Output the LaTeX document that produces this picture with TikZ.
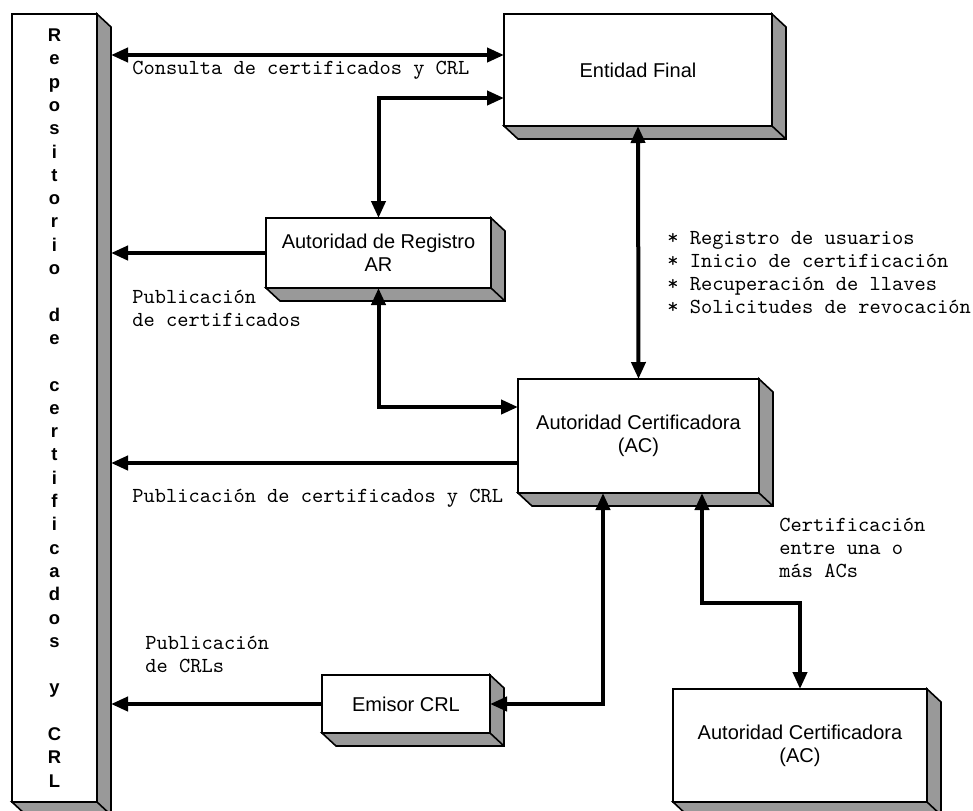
\documentclass[tikz,border=0pt]{standalone}
\usepackage{fontspec}
\setmainfont{Liberation Sans}
\usetikzlibrary{arrows.meta,calc}

\newcommand{\gapline}{\\[11.65pt]}

\begin{document}
\begin{tikzpicture}[x=0.5pt,y=-0.5pt,>={Triangle[length=8.5pt,width=7pt]},
        box/.style={draw,line width=0.8pt,fill=white,inner sep=0pt,outer sep=0pt,align=center,
                    font=\fontsize{10}{11.5}\selectfont},
        sidefill/.style={draw,line width=0.8pt,fill=black!40},
        link/.style={line width=2pt},
        lbl/.style={anchor=west,align=left,inner sep=0pt,font=\ttfamily\fontsize{10.7}{11.4}\selectfont}]
        \useasboundingbox (0,0) rectangle (973,810);

        % boxes
        \node[box,minimum width=42.5pt,minimum height=394pt,
              font=\bfseries\fontsize{9.2}{11.65}\selectfont] (rep) at (54.5,408)
              {R\\e\\p\\o\\s\\i\\t\\o\\r\\i\\o\gapline d\\e\gapline c\\e\\r\\t\\i\\f\\i\\c\\a\\d\\o\\s\gapline y\gapline C\\R\\L};
        \node[box,minimum width=134pt,minimum height=56pt] (ef) at (638,70) {Entidad Final};
        \node[box,minimum width=112.5pt,minimum height=35pt] (ar) at (378.5,253) {Autoridad de Registro\\AR};
        \node[box,minimum width=120.5pt,minimum height=57pt] (ac) at (638.5,436) {Autoridad Certificadora\\(AC)};
        \node[box,minimum width=84pt,minimum height=29pt] (emi) at (406,704) {Emisor CRL};
        \node[box,minimum width=127pt,minimum height=56.5pt] (ac2) at (800,745.5) {Autoridad Certificadora\\(AC)};

        % 3d sides
        \foreach \n in {rep,ef,ar,ac,emi,ac2} {
            \path[sidefill] (\n.north east) -- ++(14,13) -- ($(\n.south east)+(14,13)$)
                -- ($(\n.south west)+(14,13)$) -- (\n.south west) -- (\n.south east) -- cycle;
            \draw[line width=0.8pt] (\n.south east) -- ++(14,13);
        }

        \coordinate (repface) at ($(rep.north east)+(14,0)$);
        \coordinate (efa) at ($(ef.west)+(0,-15)$);
        \coordinate (efb) at ($(ef.west)+(0,28)$);
        \coordinate (aca) at ($(ac.west)+(0,-29)$);
        \coordinate (acb) at ($(ac.west)+(0,27)$);
        \coordinate (acc) at ($(ac.south)+(-35.5,0)$);
        \coordinate (acd) at ($(ac.south)+(63.5,0)$);

        % connectors
        \draw[link,<->] (efa) -- (efa -| repface);
        \draw[link,<->] (efb) -| (ar.north);
        \draw[link,<->] (ef.south) -- (ac.north);
        \draw[link,->] (ar.west) -- (ar.west -| repface);
        \draw[link,<->] (ar.south) |- (aca);
        \draw[link,->] (acb) -- (acb -| repface);
        \draw[link,<->] (emi.east) -| (acc);
        \draw[link,->] (emi.west) -- (emi.west -| repface);
        \draw[link,<->] (acd) -- ++(0,110) -| (ac2.north);

        % labels
        \node[lbl] (lconsulta) at (132,70) {Consulta de certificados y CRL};
        \node[lbl] (lpubar) at (132,308.5) {Publicación\\de certificados};
        \node[lbl] (lpubac) at (132,498) {Publicación de certificados y CRL};
        \node[lbl] (lpubcrl) at (145,654.5) {Publicación\\de CRLs};
        \node[lbl] (lfunc) at (667,272.5) {* Registro de usuarios\\* Inicio de certificación\\* Recuperación de llaves\\* Solicitudes de revocación};
        \node[lbl] (lcert) at (779,548) {Certificación\\entre una o\\más ACs};
\end{tikzpicture}
\end{document}
